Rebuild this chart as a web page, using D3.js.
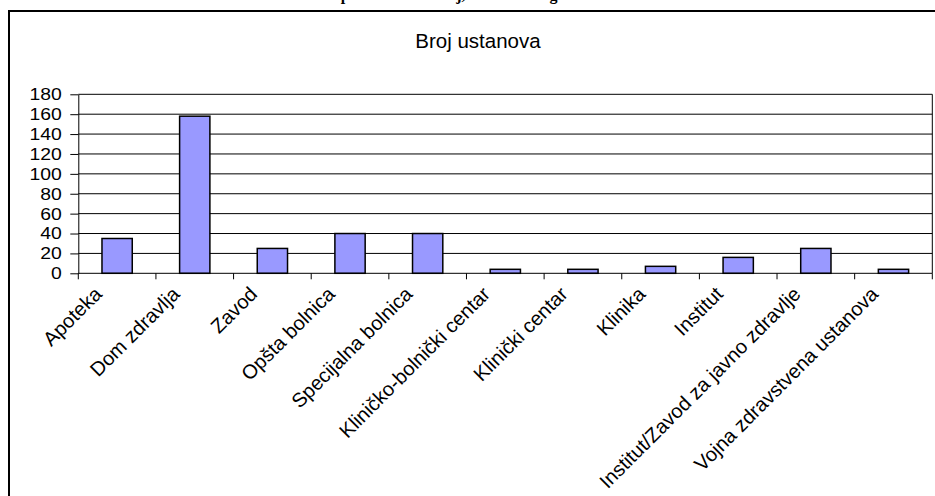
<!DOCTYPE html>
<html>
<head>
<meta charset="utf-8">
<script src="https://cdn.jsdelivr.net/npm/d3@7"></script>
<style>
  body { margin: 0; background: #fff; }
  svg { display: block; }
</style>
</head>
<body>
<svg id="chart" width="935" height="496"></svg>
<script>
// Health institutions by type: number of institutions
const categories = [
  "Apoteka", "Dom zdravlja", "Zavod", "Opšta bolnica", "Specijalna bolnica",
  "Kliničko-bolnički centar", "Klinički centar", "Klinika", "Institut",
  "Institut/Zavod za javno zdravlje", "Vojna zdravstvena ustanova"
];
const values = [35, 158, 25, 40, 40, 4, 4, 7, 16, 25, 4];
const yTicks = [0, 20, 40, 60, 80, 100, 120, 140, 160, 180];
const seriesName = "Broj ustanova";
const pageTitle = "Zdravstvene ustanove prema vrsti i broj, 31.12.2006. godine";

const svg = d3.select("#chart");
const sans = "Arial, 'Liberation Sans', sans-serif";

// page heading running above the chart frame (mostly cut off by the top edge)
svg.append("text")
  .attr("x", 187).attr("y", -0.5)
  .attr("font-family", "'Times New Roman', 'Liberation Serif', serif")
  .attr("font-weight", "bold").attr("font-size", 16)
  .text(pageTitle);

// outer chart frame
svg.append("rect")
  .attr("x", 9).attr("y", 11).attr("width", 940).attr("height", 500)
  .attr("fill", "none").attr("stroke", "#000").attr("stroke-width", 2);

const plot = { left: 78.3, right: 932.3, top: 94.3, bottom: 273.3 };

const x = d3.scaleBand().domain(categories)
  .range([plot.left, plot.right])
  .paddingInner(0.61).paddingOuter(0.305);
const y = d3.scaleLinear().domain([0, 180]).range([plot.bottom, plot.top]);

// chart title
svg.append("text")
  .attr("x", 478).attr("y", 48)
  .attr("text-anchor", "middle")
  .attr("font-family", sans).attr("font-size", 20.5)
  .text(seriesName);

// horizontal gridlines
svg.append("g").selectAll("line")
  .data(yTicks.filter(d => d > 0))
  .join("line")
  .attr("x1", plot.left).attr("x2", plot.right)
  .attr("y1", d => y(d)).attr("y2", d => y(d))
  .attr("stroke", "#000").attr("stroke-width", 1);

// right edge of plot area
svg.append("line")
  .attr("x1", plot.right).attr("x2", plot.right)
  .attr("y1", plot.top).attr("y2", plot.bottom)
  .attr("stroke", "#000").attr("stroke-width", 1);

// bars
svg.append("g").selectAll("rect")
  .data(categories)
  .join("rect")
  .attr("x", d => x(d))
  .attr("y", (d, i) => y(values[i]))
  .attr("width", x.bandwidth())
  .attr("height", (d, i) => y(0) - y(values[i]))
  .attr("fill", "#9999ff")
  .attr("stroke", "#000").attr("stroke-width", 1.5);

// y axis: compact, slightly widened numerals so the labels stay clear of each other
const yStretch = 1.14;
const yAxis = svg.append("g")
  .attr("transform", `translate(${plot.left},0)`)
  .call(d3.axisLeft(y).tickValues(yTicks).tickSize(8).tickSizeOuter(0));
yAxis.selectAll("line, path").attr("stroke", "#000");
yAxis.selectAll(".tick text")
  .attr("font-family", sans).attr("font-size", 17).attr("fill", "#000")
  .attr("x", -16.5 / yStretch)
  .attr("transform", `scale(${yStretch},1)`);

// x axis baseline with ticks between categories
const gap = (x.step() - x.bandwidth()) / 2;
const lastEdge = x(categories[categories.length - 1]) + x.bandwidth() + gap;
const xAxis = svg.append("g");
xAxis.append("line")
  .attr("x1", plot.left).attr("x2", plot.right)
  .attr("y1", plot.bottom).attr("y2", plot.bottom)
  .attr("stroke", "#000");
xAxis.selectAll("line.tick")
  .data(categories.concat([null]))
  .join("line")
  .attr("class", "tick")
  .attr("x1", d => d ? x(d) - gap : lastEdge)
  .attr("x2", d => d ? x(d) - gap : lastEdge)
  .attr("y1", plot.bottom).attr("y2", plot.bottom + 6)
  .attr("stroke", "#000");

// rotated category labels
xAxis.selectAll("text")
  .data(categories)
  .join("text")
  .attr("transform", d => `translate(${x(d) + x.bandwidth() / 2 - 14},${plot.bottom + 22}) rotate(-45)`)
  .attr("text-anchor", "end")
  .attr("font-family", sans).attr("font-size", 20)
  .text(d => d);
</script>
</body>
</html>
